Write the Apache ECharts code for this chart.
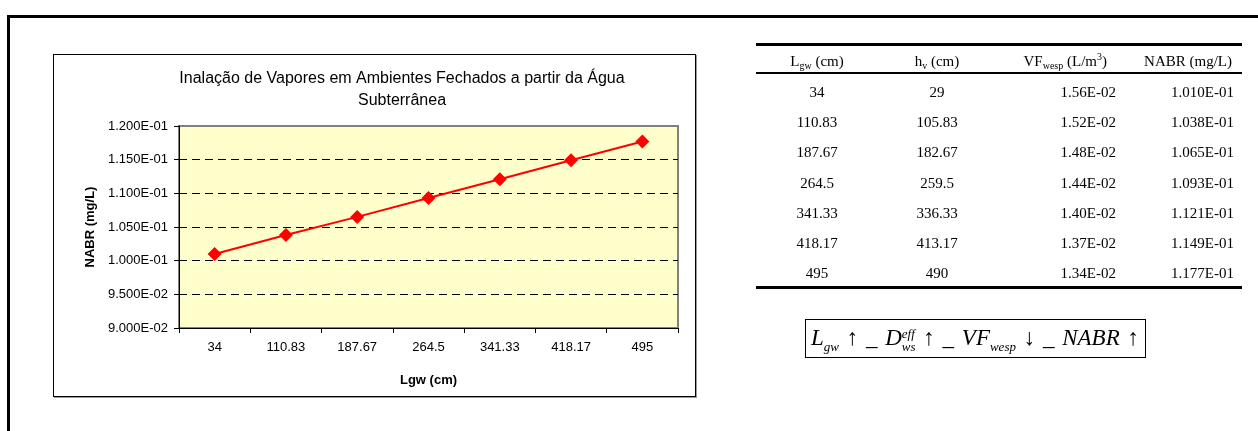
<!DOCTYPE html>
<html>
<head>
<meta charset="utf-8">
<script src="https://cdn.jsdelivr.net/npm/echarts@6/dist/echarts.min.js"></script>
<style>
  html, body { margin: 0; padding: 0; background: #fff; }
  #page { position: relative; width: 1258px; height: 431px; overflow: hidden; }
  #frame { position: absolute; left: 7px; top: 15px; width: 1400px; height: 600px; border: 3px solid #000; }
  #box { position: absolute; left: 53px; top: 54px; width: 641px; height: 341px; background: #fff;
         border: 1px solid #000; box-shadow: 1px 1px 0 #9a9a9a; }
  #chart { position: absolute; left: 0; top: 0; width: 1258px; height: 431px; }
  #tbl { position: absolute; left: 756px; top: 43px; width: 486px;
         font-family: "Liberation Serif", "Times New Roman", serif; font-size: 15px; color: #000; }
  #tbl table { border-collapse: collapse; width: 486px; table-layout: fixed; }
  #tbl thead tr { border-top: 3px solid #000; border-bottom: 2px solid #000; }
  #tbl tbody tr:last-child { border-bottom: 3px solid #000; }
  #tbl th { font-weight: normal; height: 22px; padding: 4px 0 0 0; }
  #tbl td { height: 24.3px; padding: 6px 0 0 0; }
  #tbl sub { font-size: 10px; vertical-align: -3px; line-height: 0; }
  #tbl sup { font-size: 10px; vertical-align: 6px; line-height: 0; }
  .c1, .c2 { text-align: center; }
  .c3, .c4 { text-align: right; padding-right: 8px !important; }
  #formula { position: absolute; left: 805px; top: 319px; width: 341px; height: 39px;
             border: 1px solid #000; box-sizing: border-box;
             font-family: "Liberation Serif", "Times New Roman", serif;
             font-size: 23px; font-style: italic; line-height: 36px; white-space: nowrap;
             padding-left: 5px; word-spacing: 2px; }
  #formula .s { font-size: 13px; vertical-align: -6px; line-height: 0; }
  #formula .st { display: inline-block; vertical-align: -6px; line-height: 13px; font-size: 13px; }
  #formula .n { font-style: normal; }
</style>
</head>
<body>
<div id="page">
  <div id="frame"></div>
  <div id="box"></div>
  <div id="chart"></div>
  <div id="tbl"></div>
  <div id="formula">L<span class="s">gw</span> <span class="n">↑</span> _ D<span class="st">eff<br>ws</span> <span class="n">↑</span> _ VF<span class="s">wesp</span> <span class="n">↓</span> _ NABR <span class="n">↑</span></div>
</div>
<script>
  // data
  const lgw = ['34', '110.83', '187.67', '264.5', '341.33', '418.17', '495'];
  const hv = ['29', '105.83', '182.67', '259.5', '336.33', '413.17', '490'];
  const vfWesp = ['1.56E-02', '1.52E-02', '1.48E-02', '1.44E-02', '1.40E-02', '1.37E-02', '1.34E-02'];
  const nabr = [0.1010, 0.1038, 0.1065, 0.1093, 0.1121, 0.1149, 0.1177];

  function sci(v, digits) {
    const parts = Number(v).toExponential(digits).split('e');
    const exp = parseInt(parts[1], 10);
    return parts[0] + 'E' + (exp < 0 ? '-' : '+') + String(Math.abs(exp)).padStart(2, '0');
  }

  // table
  let html = '<table><colgroup><col style="width:122px"><col style="width:118px"><col style="width:128px"><col style="width:118px"></colgroup>';
  html += '<thead><tr><th class="c1">L<sub>gw</sub> (cm)</th><th class="c2">h<sub>v</sub> (cm)</th>' +
          '<th class="c3" style="padding-right:17px !important">VF<sub>wesp</sub> (L/m<sup>3</sup>)</th>' +
          '<th class="c4" style="padding-right:10px !important">NABR (mg/L)</th></tr></thead><tbody>';
  lgw.forEach((l, i) => {
    html += '<tr><td class="c1">' + l + '</td><td class="c2">' + hv[i] + '</td><td class="c3">' +
            vfWesp[i] + '</td><td class="c4">' + sci(nabr[i], 3) + '</td></tr>';
  });
  html += '</tbody></table>';
  document.getElementById('tbl').innerHTML = html;

  const chart = echarts.init(document.getElementById('chart'));
  const font = '"Liberation Sans", Arial, sans-serif';

  chart.setOption({
    animation: false,
    title: {
      text: 'Inalação de Vapores em Ambientes Fechados a partir da Água\nSubterrânea',
      left: 397,
      top: 63,
      textAlign: 'center',
      textStyle: { fontFamily: font, fontSize: 16, fontWeight: 'normal', color: '#000', lineHeight: 22 }
    },
    grid: {
      left: 179, top: 126, width: 499, height: 202,
      show: true, backgroundColor: '#FFFFCC', borderColor: '#808080', borderWidth: 2,
      containLabel: false
    },
    xAxis: {
      type: 'category',
      data: lgw,
      boundaryGap: true,
      name: 'Lgw (cm)',
      nameLocation: 'middle',
      nameGap: 46,
      nameTextStyle: { fontFamily: font, fontSize: 13, fontWeight: 'bold', color: '#000' },
      axisLine: { lineStyle: { color: '#000', width: 1 } },
      axisTick: { show: true, length: 5, alignWithLabel: false, lineStyle: { color: '#000' } },
      axisLabel: { fontFamily: font, fontSize: 13, color: '#000', margin: 13 },
      splitLine: { show: false }
    },
    yAxis: {
      type: 'value',
      min: 0.09,
      max: 0.12,
      interval: 0.005,
      name: 'NABR (mg/L)',
      nameLocation: 'middle',
      nameGap: 82,
      nameTextStyle: { fontFamily: font, fontSize: 13, fontWeight: 'bold', color: '#000' },
      axisLine: { show: true, lineStyle: { color: '#000', width: 1 } },
      axisTick: { show: true, length: 5, lineStyle: { color: '#000' } },
      axisLabel: { fontFamily: font, fontSize: 13, color: '#000', margin: 11, formatter: v => sci(v, 3) },
      splitLine: { show: true, showMinLine: false, showMaxLine: false, lineStyle: { color: '#000', width: 1, type: [8, 5] } }
    },
    series: [{
      type: 'line',
      data: nabr,
      symbol: 'diamond',
      symbolSize: 14,
      lineStyle: { color: '#FF0000', width: 2 },
      itemStyle: { color: '#FF0000' }
    }]
  });
</script>
</body>
</html>
